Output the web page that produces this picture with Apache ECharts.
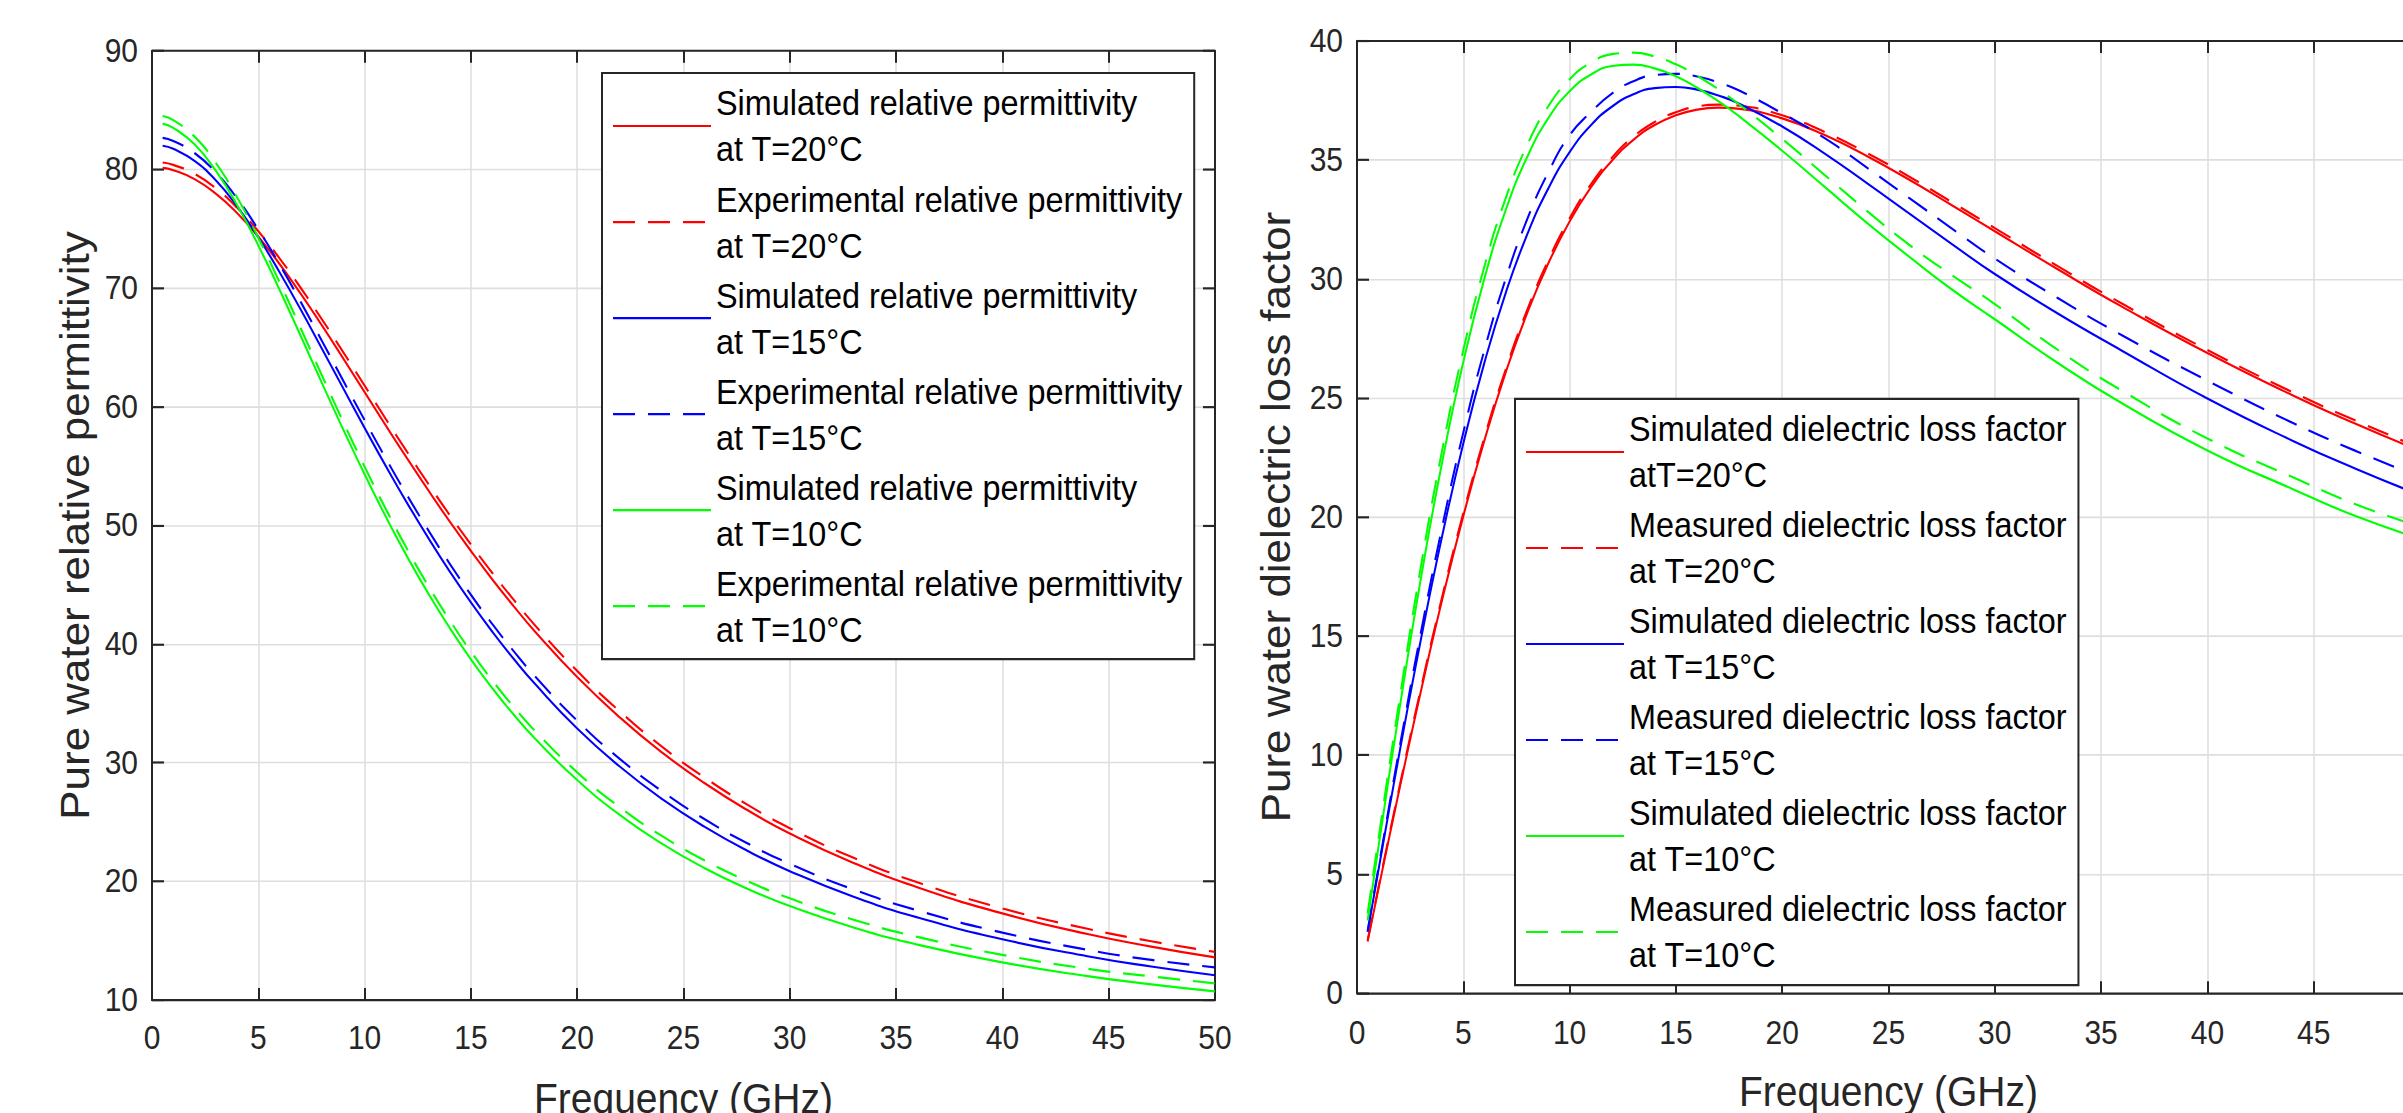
<!DOCTYPE html>
<html><head><meta charset="utf-8">
<script src="https://cdn.jsdelivr.net/npm/echarts@6/dist/echarts.min.js"></script>
<style>
html{margin:0;padding:0;background:#fff;overflow:hidden;width:2403px;height:1113px}
body{margin:0;padding:0;background:#fff;width:2403px;height:1113px;overflow:visible}
#c{width:2403px;height:1030.56px;transform:scaleY(1.08);transform-origin:0 0}
</style>
</head><body><div id="c"></div>
<script>
// Frequency samples (GHz)
const freq = [0.5,1,2,3,4,5,6,7,8,9,10,11,12,13,14,15,16,17,18,20,22,24,26,28,30,33,36,40,44,47,50];

// Left panel: relative permittivity
const permSim20 = [80.14,79.95,79.20,77.98,76.34,74.34,72.04,69.52,66.84,64.06,61.24,58.42,55.65,52.95,50.34,47.85,45.47,43.22,41.09,37.22,33.82,30.85,28.27,26.01,24.04,21.55,19.50,17.30,15.56,14.50,13.59];
const permExp20 = [80.60,80.40,79.65,78.43,76.80,74.80,72.52,70.02,67.36,64.60,61.79,58.97,56.20,53.50,50.89,48.40,46.02,43.77,41.62,37.74,34.33,31.34,28.74,26.47,24.48,21.98,19.92,17.72,16.00,14.95,14.05];
const permSim15 = [82.01,81.75,80.73,79.10,76.92,74.30,71.35,68.18,64.88,61.54,58.23,55.00,51.89,48.94,46.14,43.51,41.06,38.78,36.67,32.89,29.68,26.93,24.59,22.58,20.86,18.70,16.96,15.12,13.69,12.82,12.08];
const permExp15 = [82.68,82.42,81.40,79.77,77.58,74.95,72.00,68.83,65.53,62.19,58.88,55.65,52.54,49.59,46.79,44.16,41.71,39.43,37.32,33.54,30.33,27.58,25.23,23.21,21.48,19.31,17.55,15.68,14.23,13.38,12.75];
const permSim10 = [83.88,83.52,82.13,79.91,77.02,73.61,69.87,65.95,61.98,58.07,54.31,50.73,47.37,44.25,41.37,38.72,36.30,34.08,32.06,28.54,25.60,23.16,21.11,19.38,17.92,16.11,14.67,13.17,12.01,11.32,10.73];
const permExp10 = [84.52,84.17,82.78,80.56,77.67,74.26,70.52,66.60,62.63,58.72,54.96,51.38,48.02,44.90,42.02,39.37,36.95,34.73,32.71,29.19,26.25,23.81,21.76,20.03,18.57,16.76,15.32,13.80,12.63,11.99,11.40];

// Right panel: dielectric loss factor
const lossSim20  = [2.17,4.34,8.58,12.66,16.50,20.04,23.24,26.09,28.56,30.66,32.42,33.85,34.98,35.85,36.47,36.88,37.12,37.20,37.15,36.75,36.05,35.16,34.16,33.09,32.01,30.39,28.83,26.89,25.12,23.91,22.78];
const lossMeas20 = [2.22,4.40,8.68,12.78,16.63,20.17,23.37,26.22,28.69,30.79,32.55,33.98,35.11,35.98,36.60,37.01,37.25,37.33,37.28,36.88,36.18,35.29,34.29,33.22,32.14,30.52,28.96,27.02,25.25,24.04,22.91];
const lossSim15  = [2.57,5.12,10.11,14.83,19.18,23.09,26.51,29.43,31.86,33.81,35.33,36.46,37.25,37.76,38.02,38.07,37.96,37.71,37.36,36.41,35.27,34.02,32.74,31.46,30.21,28.53,26.98,24.98,23.21,22.02,20.93];
const lossMeas15 = [2.62,5.22,10.31,15.13,19.56,23.55,27.04,30.02,32.50,34.49,36.04,37.01,37.80,38.31,38.57,38.62,38.51,38.26,37.91,36.96,35.92,34.67,33.39,32.11,30.86,29.18,27.63,25.73,23.96,22.77,21.68];
const lossSim10  = [3.05,6.08,11.94,17.39,22.28,26.51,30.05,32.91,35.12,36.76,37.89,38.59,38.95,39.01,38.85,38.52,38.04,37.47,36.82,35.39,33.87,32.35,30.92,29.55,28.31,26.45,24.77,22.80,21.18,20.03,19.10];
const lossMeas10 = [3.35,6.43,12.34,17.89,22.78,27.01,30.55,33.41,35.62,37.26,38.39,39.09,39.45,39.51,39.35,39.02,38.54,37.97,37.32,35.89,34.37,32.85,31.42,30.15,28.95,27.00,25.30,23.30,21.68,20.53,19.60];

// Axis ranges / tick steps
const xRange = [0, 50], xStep = 5;
const leftYRange = [10, 90], leftYStep = 10;
const rightYRange = [0, 40], rightYStep = 5;

const leftNames = [
  'Simulated relative permittivity\nat T=20°C',
  'Experimental relative permittivity\nat T=20°C',
  'Simulated relative permittivity\nat T=15°C',
  'Experimental relative permittivity\nat T=15°C',
  'Simulated relative permittivity\nat T=10°C',
  'Experimental relative permittivity\nat T=10°C'
];
const rightNames = [
  'Simulated dielectric loss factor\natT=20°C',
  'Measured dielectric loss factor\nat T=20°C',
  'Simulated dielectric loss factor\nat T=15°C',
  'Measured dielectric loss factor\nat T=15°C',
  'Simulated dielectric loss factor\nat T=10°C',
  'Measured dielectric loss factor\nat T=10°C'
];
const colors = ['#ff0000','#ff0000','#0000ff','#0000ff','#00ff00','#00ff00'];
const dashed = [false,true,false,true,false,true];

const FONT = '"Liberation Sans", Arial, sans-serif';
const AX = '#262626';

function mainX(grid, margin){
  return {gridIndex:grid, type:'value', min:xRange[0], max:xRange[1], interval:xStep, position:'bottom',
    name:'Frequency (GHz)', nameLocation:'middle', nameGap:72, nameMoveOverlap:false,
    nameTextStyle:{fontSize:39, color:AX, fontFamily:FONT},
    axisLine:{show:true, onZero:false, lineStyle:{color:AX, width:2}},
    axisTick:{show:true, inside:true, length:11, lineStyle:{color:AX, width:2}},
    axisLabel:{fontSize:30, color:AX, fontFamily:FONT, margin:margin},
    splitLine:{show:true, lineStyle:{color:'#dedede', width:1.5}}};
}
function boxX(grid){
  return {gridIndex:grid, type:'value', min:xRange[0], max:xRange[1], interval:xStep, position:'top',
    axisLine:{show:true, onZero:false, lineStyle:{color:AX, width:2}},
    axisTick:{show:true, inside:true, length:11, lineStyle:{color:AX, width:2}},
    axisLabel:{show:false}, splitLine:{show:false}};
}
function mainY(grid, range, step, name, gap){
  return {gridIndex:grid, type:'value', min:range[0], max:range[1], interval:step, position:'left',
    name:name, nameLocation:'middle', nameGap:gap, nameMoveOverlap:false,
    nameTextStyle:{fontSize:40.7, color:AX, fontFamily:FONT},
    axisLine:{show:true, onZero:false, lineStyle:{color:AX, width:2}},
    axisTick:{show:true, inside:true, length:12, lineStyle:{color:AX, width:2}},
    axisLabel:{fontSize:30, color:AX, fontFamily:FONT, margin:14},
    splitLine:{show:true, lineStyle:{color:'#dedede', width:1.5}}};
}
function boxY(grid, range, step){
  return {gridIndex:grid, type:'value', min:range[0], max:range[1], interval:step, position:'right',
    axisLine:{show:true, onZero:false, lineStyle:{color:AX, width:2}},
    axisTick:{show:true, inside:true, length:12, lineStyle:{color:AX, width:2}},
    axisLabel:{show:false}, splitLine:{show:false}};
}
function mkSeries(names, arrays, xi, yi){
  return names.map((n,i)=>({
    name:n, type:'line', xAxisIndex:xi, yAxisIndex:yi, showSymbol:false, symbol:'none', smooth:true,
    color:colors[i],
    lineStyle:{color:colors[i], width:2, type: dashed[i] ? [22,13] : 'solid'},
    data: freq.map((f,k)=>[f, arrays[i][k]])
  }));
}
function mkLegend(names, left, top){
  return {show:true, data:names, orient:'vertical', left:left, top:top,
    itemWidth:98, itemHeight:14, itemGap:3.7, padding:[6.5,12,6.5,10],
    borderColor:AX, borderWidth:2, backgroundColor:'#ffffff', borderRadius:0,
    selectedMode:false,
    itemStyle:{opacity:0, color:'transparent', borderWidth:0},
    textStyle:{fontSize:32.4, lineHeight:42.6, color:'#000000', fontFamily:FONT}};
}

const chart = echarts.init(document.getElementById('c'), null, {renderer:'svg', width:2403, height:1113});
chart.setOption({
  backgroundColor:'#ffffff',
  animation:false,
  grid:[
    {left:152, top:47.2, width:1063, height:878.7, outerBoundsMode:'none', containLabel:false},
    {left:1357, top:38, width:1063, height:881.5, outerBoundsMode:'none', containLabel:false}
  ],
  xAxis:[mainX(0,20), boxX(0), mainX(1,22), boxX(1)],
  yAxis:[
    mainY(0, leftYRange, leftYStep, 'Pure water relative permittivity', 56), boxY(0, leftYRange, leftYStep),
    mainY(1, rightYRange, rightYStep, 'Pure water dielectric loss factor', 60), boxY(1, rightYRange, rightYStep)
  ],
  legend:[mkLegend(leftNames, 602, 67.6), mkLegend(rightNames, 1515, 369.4)],
  series:[
    ...mkSeries(leftNames, [permSim20, permExp20, permSim15, permExp15, permSim10, permExp10], 0, 0),
    ...mkSeries(rightNames, [lossSim20, lossMeas20, lossSim15, lossMeas15, lossSim10, lossMeas10], 2, 2)
  ]
});
</script>
</body></html>
